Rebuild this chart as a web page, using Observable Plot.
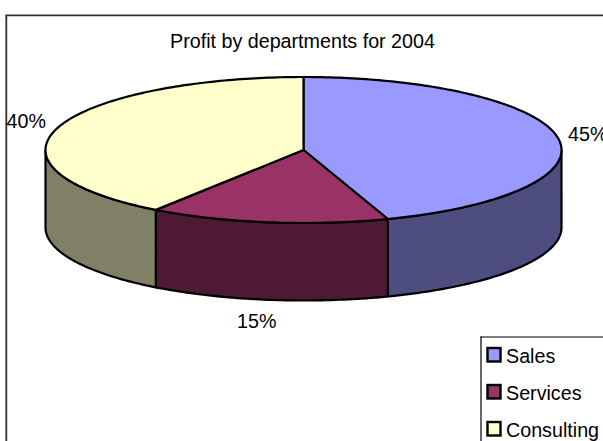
<!DOCTYPE html>
<html>
<head>
<meta charset="utf-8">
<style>html,body{margin:0;padding:0;background:#fff;overflow:hidden}svg{display:block}</style>
<script src="https://cdn.jsdelivr.net/npm/d3@7"></script>
<script src="https://cdn.jsdelivr.net/npm/@observablehq/plot@0.6"></script>
</head>
<body>
<script>
const title = "Profit by departments for 2004";
const categories = ["Sales", "Services", "Consulting"];
const shares = [44.7, 15, 40.3];
const topColors = ["#9999FF", "#993366", "#FFFFCC"];
const sideColors = ["#4D4D80", "#4D1933", "#808066"];

const W = 603, H = 441;
const font = "Liberation Sans, Arial, sans-serif";
const FS = 19.7;
const cx = 303, cy = 149.5, rx = 258, ry = 73, depth = 77.5;
const total = d3.sum(shares);
const pt = (deg, dz = 0) => {
  const a = deg * Math.PI / 180;
  return {x: cx + rx * Math.sin(a), y: cy - ry * Math.cos(a) + dz};
};
const arc = (a0, a1, dz) => {
  const n = Math.max(2, Math.ceil(Math.abs(a1 - a0)));
  return d3.range(n + 1).map(i => pt(a0 + (a1 - a0) * i / n, dz));
};
let acc = 0;
const slices = categories.map((name, i) => {
  const a0 = acc / total * 360;
  acc += shares[i];
  return {name, share: shares[i], a0, a1: acc / total * 360};
});
const topPts = slices.flatMap(s => {
  const ring = [{x: cx, y: cy}, ...arc(s.a0, s.a1, 0), {x: cx, y: cy}];
  return ring.map(p => ({...p, key: s.name}));
});
const sidePts = slices.flatMap(s => {
  const a0 = Math.max(s.a0, 90), a1 = Math.min(s.a1, 270);
  if (a1 <= a0) return [];
  const ring = [...arc(a0, a1, 0), ...arc(a1, a0, depth)];
  ring.push(ring[0]);
  return ring.map(p => ({...p, key: s.name + " side"}));
});
const labelPos = [
  {x: 567.5, y: 134},
  {x: 236.5, y: 321.5},
  {x: 6, y: 121}
];
const labels = labelPos.map((d, i) => ({...d, text: Math.round(shares[i]) + "%"}));
const frameX = 5.8, frameY = 14.8;
const legendX = 480.5, legendY = 336.5;
const legendRows = categories.map((name, i) => ({name, y: 356 + i * 37}));

const chart = Plot.plot({
  width: W, height: H,
  margin: 0,
  style: {background: "#fff", fontFamily: font, color: "#000"},
  x: {domain: [0, W], range: [0, W], axis: null},
  y: {domain: [0, H], range: [0, H], axis: null},
  color: {
    type: "ordinal",
    domain: [...categories, ...categories.map(c => c + " side")],
    range: [...topColors, ...sideColors]
  },
  marks: [
    Plot.ruleX([frameX], {y1: frameY, y2: H, stroke: "#303030", strokeWidth: 1.8}),
    Plot.ruleY([frameY], {x1: frameX, x2: W, stroke: "#303030", strokeWidth: 1.8}),
    Plot.line(sidePts, {x: "x", y: "y", z: "key", fill: "key", stroke: "#000", strokeWidth: 2.2}),
    Plot.line(topPts, {x: "x", y: "y", z: "key", fill: "key", stroke: "#000", strokeWidth: 2.2}),
    Plot.text([title], {x: 302, y: 41.5, text: d => d, fontSize: FS, fill: "#000"}),
    Plot.text(labels, {x: "x", y: "y", text: "text", fontSize: FS, textAnchor: "start", fill: "#000"}),
    Plot.ruleX([legendX], {y1: legendY, y2: H, stroke: "#000", strokeWidth: 1.2}),
    Plot.ruleY([legendY], {x1: legendX, x2: W, stroke: "#000", strokeWidth: 1.2}),
    Plot.rect(legendRows, {x1: 487.5, x2: 500.5, y1: d => d.y - 8, y2: d => d.y + 5.5, fill: "name", stroke: "#000", strokeWidth: 2.4}),
    Plot.text(legendRows, {x: 505.5, y: "y", text: "name", fontSize: FS, textAnchor: "start", fill: "#000"})
  ]
});
document.body.appendChild(chart);
</script>
</body>
</html>
